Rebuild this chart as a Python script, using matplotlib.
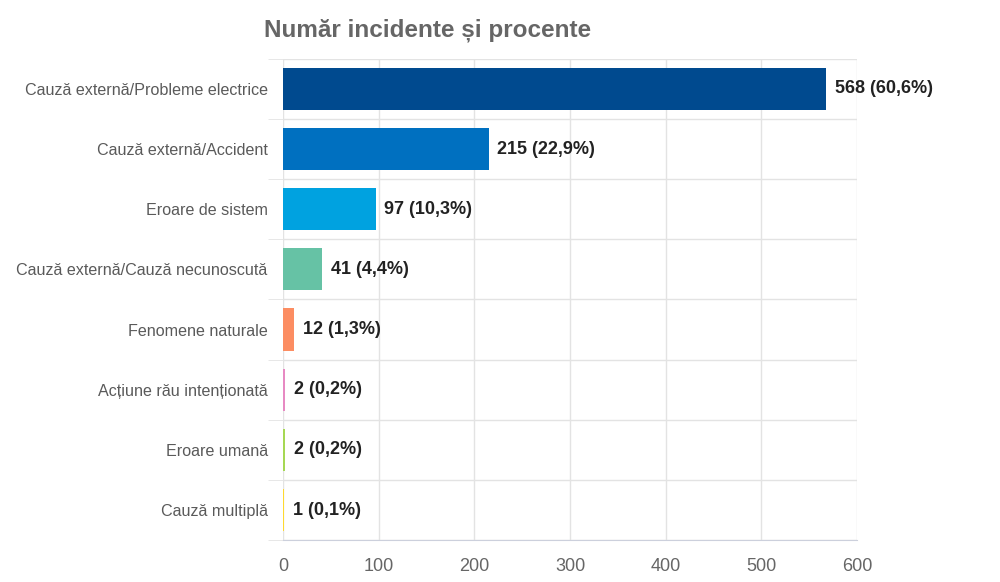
import matplotlib.pyplot as plt
import numpy as np

plt.rcParams['font.family'] = ['Liberation Sans', 'DejaVu Sans']

categories = ['Cauză externă/Probleme electrice', 'Cauză externă/Accident',
              'Eroare de sistem', 'Cauză externă/Cauză necunoscută',
              'Fenomene naturale', 'Acțiune rău intenționată',
              'Eroare umană', 'Cauză multiplă']
values = [568, 215, 97, 41, 12, 2, 2, 1]
percents = ['60,6%', '22,9%', '10,3%', '4,4%', '1,3%', '0,2%', '0,2%', '0,1%']
colors = ['#004a8f', '#0070c0', '#00a2e0', '#66c2a5', '#fc8d62',
          '#e78ac3', '#a6d854', '#ffd92f']
xticks = [0, 100, 200, 300, 400, 500, 600]

fig = plt.figure(figsize=(10, 5.82), dpi=100)
ax = fig.add_axes([0.283, 0.072, 0.574, 0.827])

y = np.arange(len(categories))
ax.barh(y, values, height=0.7, color=colors, zorder=3)
for yi, v, p in zip(y, values, percents):
    ax.text(v + 9, yi, f'{v} ({p})', va='center', ha='left',
            fontsize=13, fontweight='bold', color='#222222', zorder=4)

ax.set_xlim(0, 600)
ax.set_ylim(len(categories) - 0.5, -0.5)
ax.set_xticks(xticks)
ax.set_yticks(y)
ax.set_yticklabels(categories)
ax.set_yticks(np.arange(-0.5, len(categories), 1), minor=True)

ax.grid(axis='x', color='#e3e3e3', linewidth=1, zorder=0)
ax.grid(axis='y', which='minor', color='#e3e3e3', linewidth=1, zorder=0)
ax.tick_params(axis='y', which='major', length=0, pad=11, labelsize=11.6,
               labelcolor='#5a5a5a')
ax.tick_params(axis='y', which='minor', length=11, color='#e3e3e3')
ax.tick_params(axis='x', length=0, pad=13, labelsize=13, labelcolor='#666666')

for s in ['top', 'right', 'left']:
    ax.spines[s].set_visible(False)
ax.spines['bottom'].set_color('#ccd0dc')

fig.text(0.428, 0.948, 'Număr incidente și procente', ha='center', va='center',
         fontsize=17.5, fontweight='bold', color='#666666')

plt.savefig('out.png', dpi=100)
